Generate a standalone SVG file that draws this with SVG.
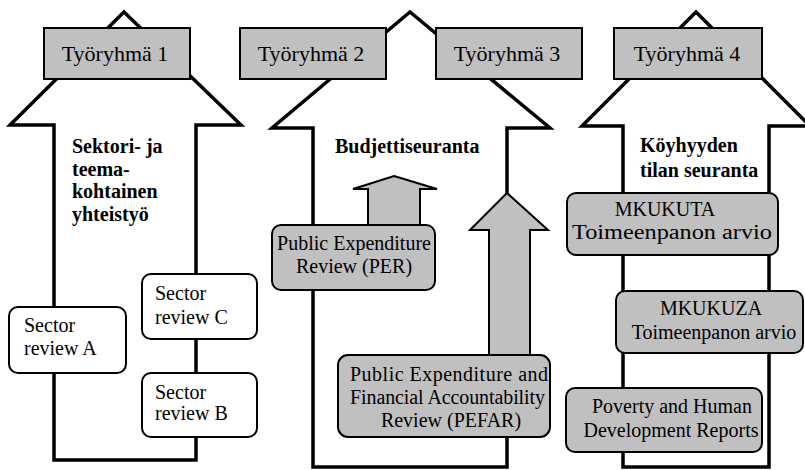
<svg xmlns="http://www.w3.org/2000/svg" width="805" height="470" viewBox="0 0 805 470">
<style>
.big{fill:#fff;stroke:#000;stroke-width:3.5;stroke-linejoin:miter}
.gray{fill:#c0c0c0;stroke:#000;stroke-width:2}
.white{fill:#fff;stroke:#000;stroke-width:2}
.t{font-size:22px;text-anchor:middle}
.b{font-size:20px;font-weight:bold}
.n{font-size:20px}
.c{text-anchor:middle}
</style>
<rect width="805" height="470" fill="#fff"/>
<g id="connectors">
<path class="big" d="M124,12 L241,125 L196,125 L196,460 L54,460 L54,125 L10,125 Z"/>
<path class="big" d="M410,12 L550,128 L507,128 L507,467 L313,467 L313,128 L272,128 Z"/>
<path class="big" d="M696,12 L810,126 L769,126 L769,467 L623,467 L623,126 L582,126 Z"/>
<path class="gray" d="M394,176 L437,189 L420,189 L420,226 L368,226 L368,189 L353,189 Z"/>
<path class="gray" d="M507,193 L548,230 L530,230 L530,356 L489,356 L489,230 L470,230 Z"/>
</g>
<g font-family="'Liberation Serif', 'DejaVu Serif', serif" fill="#000">
<g id="tr1"><rect class="gray" x="44" y="28" width="146" height="51"/><text class="t" x="115" y="61">Työryhmä 1</text></g>
<g id="tr2"><rect class="gray" x="240" y="28" width="146" height="51"/><text class="t" x="311" y="61">Työryhmä 2</text></g>
<g id="tr3"><rect class="gray" x="436" y="28" width="146" height="51"/><text class="t" x="507" y="61">Työryhmä 3</text></g>
<g id="tr4"><rect class="gray" x="614" y="28" width="148" height="51"/><text class="t" x="687" y="61">Työryhmä 4</text></g>
<g id="h1"><text class="b" x="72" y="153">Sektori- ja</text><text class="b" x="72" y="176">teema-</text><text class="b" x="72" y="198">kohtainen</text><text class="b" x="72" y="221">yhteistyö</text></g>
<g id="h2"><text class="b" x="335" y="153">Budjettiseuranta</text></g>
<g id="h3"><text class="b" x="640" y="152">Köyhyyden</text><text class="b" x="640" y="177">tilan seuranta</text></g>
<g id="srA"><rect class="white" x="9" y="307" width="117" height="66" rx="9"/><text class="n" x="24" y="332">Sector</text><text class="n" x="24" y="355">review A</text></g>
<g id="srC"><rect class="white" x="142" y="274" width="115" height="65" rx="9"/><text class="n" x="155" y="300">Sector</text><text class="n" x="155" y="324">review C</text></g>
<g id="srB"><rect class="white" x="142" y="373" width="115" height="64" rx="9"/><text class="n" x="155" y="399">Sector</text><text class="n" x="155" y="420">review B</text></g>
<g id="per"><rect class="gray" x="272" y="225" width="163" height="65" rx="9"/><text class="n c" x="354" y="250">Public Expenditure</text><text class="n c" x="354" y="273">Review (PER)</text></g>
<g id="pefar"><rect class="gray" x="338" y="355" width="212" height="82" rx="10"/><text class="n" x="350" y="381" textLength="198" lengthAdjust="spacing">Public Expenditure and</text><text class="n" x="350" y="404" textLength="195" lengthAdjust="spacing">Financial Accountability</text><text class="n c" x="451" y="427">Review (PEFAR)</text></g>
<g id="mkukuta"><rect class="gray" x="567" y="193" width="211" height="62" rx="9"/><text class="n c" x="665" y="216">MKUKUTA</text><text class="n" x="572" y="239" textLength="200" lengthAdjust="spacingAndGlyphs">Toimeenpanon arvio</text></g>
<g id="mkukuza"><rect class="gray" x="616" y="291" width="187" height="62" rx="9"/><text class="n c" x="711" y="315">MKUKUZA</text><text class="n c" x="714" y="339">Toimeenpanon arvio</text></g>
<g id="phdr"><rect class="gray" x="566" y="388" width="196" height="64" rx="9"/><text class="n c" x="672" y="413">Poverty and Human</text><text class="n c" x="671" y="437">Development Reports</text></g>
</g>
</svg>
